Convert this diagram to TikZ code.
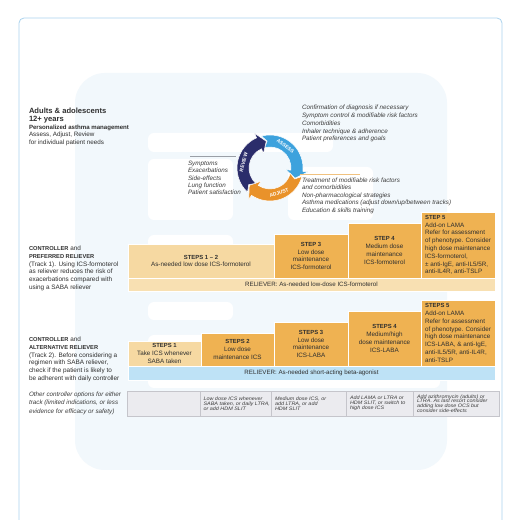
\documentclass[tikz,border=0pt]{standalone}
\usepackage{fontspec}
\setmainfont{Liberation Sans}
\newfontfamily\cellfont[FakeStretch=1.1]{Liberation Sans}
\newcommand\fsz[2]{\fontsize{#1}{#2}\selectfont}
\newcommand\hdr[1]{{\bfseries\fontsize{5.9}{7.8}\selectfont #1}}
\newcommand\capb[1]{{\bfseries\fontsize{5.7}{7.66}\selectfont #1}}
\definecolor{ink}{HTML}{2F2F2F}
\definecolor{inkit}{HTML}{3C3C3C}
\definecolor{tanlt}{HTML}{F6D9A2}
\definecolor{tanbar}{HTML}{F8E0B2}
\definecolor{orng}{HTML}{EFB252}
\definecolor{bluebar}{HTML}{BEE2F6}
\definecolor{cellfill}{HTML}{EBEBEF}
\definecolor{celldraw}{HTML}{C5C5CB}
\definecolor{panel}{HTML}{F2F8FC}
\definecolor{framec}{HTML}{ABD3EE}
\definecolor{navy}{HTML}{2B2D6B}
\definecolor{cblue}{HTML}{3DA2DD}
\definecolor{corange}{HTML}{E9922A}
\definecolor{sepgray}{HTML}{9A9FA6}
\definecolor{septan}{HTML}{F1C27F}
% one curved arrow of the cycle: colour, tail angle, head base angle, tip angle
\newcommand\cycarrow[4]{%
  \fill[#1,draw=white,line width=0.5]
    (#2:33) arc[start angle=#2,end angle=#3,radius=33]
    -- (#3:38) -- (#4:27) -- (#3:16) -- (#3:21)
    arc[start angle=#3,end angle=#2,radius=21]
    -- ({#2-9}:27) -- cycle;}
\begin{document}
\begin{tikzpicture}[x=1pt,y=1pt,
  txt/.style={inner sep=0,outer sep=0,text=ink,align=left,anchor=north west,font=\fsz{6.4}{7.66}},
  itlist/.style={txt,text=inkit,font=\itshape\fsz{6.3}{7.6}},
  ghost/.style={fill=white,rounded corners=6},
  stepbox/.style={draw=white,line width=0.6,inner sep=0,outer sep=0,anchor=south west,
    text=ink,align=center,font=\fsz{6.3}{7.8}},
  barbox/.style={stepbox,font=\fsz{6.2}{7}},
  cellbox/.style={draw=celldraw,line width=0.5,fill=cellfill,inner sep=0,outer sep=0,
    anchor=south west,minimum height=25},
  celltxt/.style={inner sep=0,outer sep=0,text=inkit,align=left,anchor=west,
    font=\cellfont\itshape\fsz{4.95}{4.8}},
  cyclab/.style={inner sep=0,text=white,font=\bfseries\fsz{5}{5}},
]
\useasboundingbox (0,0) rectangle (520,520);
\fill[white] (0,0) rectangle (520,520);

% outer frame
\draw[framec,line width=0.8,rounded corners=5] (19,-2) -- (19,502) -- (502,502) -- (502,-2);

% pale background panel with white ghost bars
\fill[panel,rounded corners=30] (75,50) rectangle (447,447);
\fill[ghost] (148,368) rectangle (333,387);
\fill[ghost] (148,300) rectangle (233,361);
\fill[ghost] (288,300) rectangle (373,353);
\fill[ghost] (148,270) rectangle (233,285);
\fill[ghost] (148,200) rectangle (233,218);
\fill[ghost] (148,172) rectangle (233,185);
\fill[ghost] (148,132) rectangle (440,160);

% title block
\node[txt,anchor=base west,font=\bfseries\fsz{7.6}{8}] (h1) at (29,406) {Adults \& adolescents};
\node[txt,anchor=base west,font=\bfseries\fsz{7.6}{8}] (h2) at (29,398) {12+ years};
\node[txt,anchor=base west,font=\bfseries\fsz{6.1}{7}] (h3) at (29,390.5) {Personalized asthma management};
\node[txt,anchor=base west,font=\fsz{6.3}{7}] (h4) at (29,383) {Assess, Adjust, Review};
\node[txt,anchor=base west,font=\fsz{6.3}{7}] (h5) at (29,375.5) {for individual patient needs};

% assess / adjust / review cycle
\begin{scope}[shift={(270,352)}]
  \cycarrow{cblue}{105}{-6}{-22}
  \cycarrow{corange}{-15}{-124}{-140}
  \cycarrow{navy}{227}{114}{98}
  \node[cyclab,rotate=-37] (lassess) at (55:27) {ASSESS};
  \node[cyclab,rotate=20] (ladjust) at (-70:26.5) {ADJUST};
  \node[cyclab,rotate=76] (lreview) at (168:27) {REVIEW};
\end{scope}

% cycle captions
\draw[sepgray,line width=0.4] (190,364) -- (236,364);
\draw[septan,line width=0.6] (300,346) -- (360,346);
\node[itlist,font=\itshape\fsz{6.3}{7.35}] (review) at (188,358.9)
  {Symptoms\\Exacerbations\\Side-effects\\Lung function\\Patient satisfaction};
\node[itlist,font=\itshape\fsz{6.3}{7.7}] (assess) at (302,414.6)
  {Confirmation of diagnosis if necessary\\Symptom control \& modifiable risk factors\\Comorbidities\\Inhaler technique \& adherence\\Patient preferences and goals};
\node[itlist,font=\itshape\fsz{6.3}{7.55}] (adjust) at (302,342.3)
  {Treatment of modifiable risk factors\\and comorbidities\\Non-pharmacological strategies\\Asthma medications (adjust down/up/between tracks)\\Education \& skills training};

% track 1
\node[txt] (track1) at (29,273.9)
  {\capb{CONTROLLER} and\\\capb{PREFERRED RELIEVER}\\(Track 1). Using ICS-formoterol\\as reliever reduces the risk of\\exacerbations compared with\\using a SABA reliever};
\node[stepbox,fill=tanlt,minimum width=146,minimum height=34] (t1s12) at (128,242)
  {\hdr{STEPS 1 – 2}\\As-needed low dose ICS-formoterol};
\node[stepbox,fill=orng,minimum width=74,minimum height=44] (t1s3) at (274,242)
  {\hdr{STEP 3}\\Low dose\\maintenance\\ICS-formoterol};
\node[stepbox,fill=orng,minimum width=73,minimum height=55] (t1s4) at (348,242)
  {\hdr{STEP 4}\\Medium dose\\maintenance\\ICS-formoterol};
\node[stepbox,fill=orng,minimum width=74,minimum height=66,align=left] (t1s5) at (421,242)
  {\hdr{STEP 5}\\Add-on LAMA\\Refer for assessment\\of phenotype. Consider\\high dose maintenance\\ICS-formoterol,\\± anti-IgE, anti-IL5/5R,\\anti-IL4R, anti-TSLP};
\node[barbox,fill=tanbar,minimum width=367,minimum height=13] (t1rel) at (128,229)
  {RELIEVER: As-needed low-dose ICS-formoterol};

% track 2
\node[txt] (track2) at (29,182.9)
  {\capb{CONTROLLER} and\\\capb{ALTERNATIVE RELIEVER}\\(Track 2). Before considering a\\regimen with SABA reliever,\\check if the patient is likely to\\be adherent with daily controller};
\node[stepbox,fill=tanlt,minimum width=73,minimum height=25] (t2s1) at (128,154)
  {\hdr{STEPS 1}\\Take ICS whenever\\SABA taken};
\node[stepbox,fill=orng,minimum width=73,minimum height=33] (t2s2) at (201,154)
  {\hdr{STEPS 2}\\Low dose\\maintenance ICS};
\node[stepbox,fill=orng,minimum width=74,minimum height=44] (t2s3) at (274,154)
  {\hdr{STEPS 3}\\Low dose\\maintenance\\ICS-LABA};
\node[stepbox,fill=orng,minimum width=73,minimum height=55] (t2s4) at (348,154)
  {\hdr{STEPS 4}\\Medium/high\\dose maintenance\\ICS-LABA};
\node[stepbox,fill=orng,minimum width=74,minimum height=66,align=left] (t2s5) at (421,154)
  {\hdr{STEPS 5}\\Add-on LAMA\\Refer for assessment\\of phenotype. Consider\\high dose maintenance\\ICS-LABA, \& anti-IgE,\\anti-IL5/5R, anti-IL4R,\\anti-TSLP};
\node[barbox,fill=bluebar,minimum width=367,minimum height=14] (t2rel) at (128,140)
  {RELIEVER: As-needed short-acting beta-agonist};

% other controller options
\node[itlist,font=\itshape\fsz{6.3}{8.3}] (other) at (29,127.9)
  {Other controller options for either\\track (limited indications, or less\\evidence for efficacy or safety)};
\node[cellbox,minimum width=73] (c1) at (127,104) {};
\node[cellbox,minimum width=71] (c2) at (200,104) {};
\node[cellbox,minimum width=75] (c3) at (271,104) {};
\node[cellbox,minimum width=67] (c4) at (346,104) {};
\node[cellbox,minimum width=86] (c5) at (413,104) {};
\node[celltxt] (c2t) at ([xshift=3.5]c2.west) {Low dose ICS whenever\\SABA taken, or daily LTRA,\\or add HDM SLIT};
\node[celltxt] (c3t) at ([xshift=4]c3.west) {Medium dose ICS, or\\add LTRA, or add\\HDM SLIT};
\node[celltxt] (c4t) at ([xshift=4]c4.west) {Add LAMA or LTRA or\\HDM SLIT, or switch to\\high dose ICS};
\node[celltxt] (c5t) at ([xshift=4]c5.west) {Add azithromycin (adults) or\\LTRA. As last resort consider\\adding low dose OCS but\\consider side-effects};
\end{tikzpicture}
\end{document}
